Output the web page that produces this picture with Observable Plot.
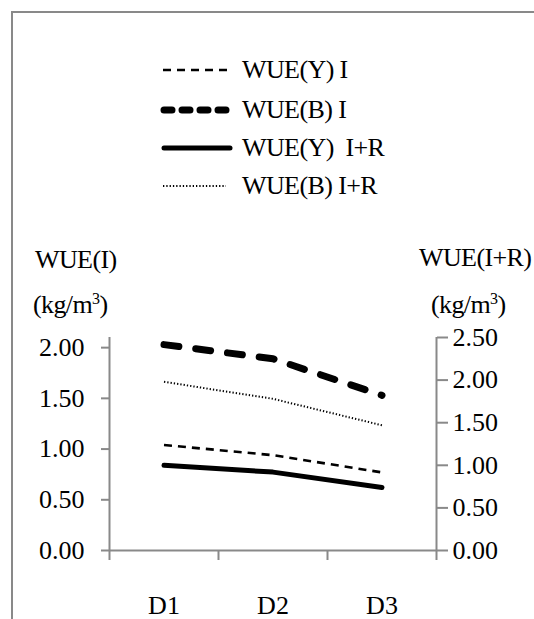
<!DOCTYPE html>
<html>
<head>
<meta charset="utf-8">
<script src="https://cdn.jsdelivr.net/npm/d3@7"></script>
<script src="https://cdn.jsdelivr.net/npm/@observablehq/plot@0.6"></script>
<style>
  html, body { margin: 0; padding: 0; background: #fff; }
  #wrap { position: relative; width: 534px; height: 619px; overflow: hidden; font-family: "Liberation Serif", "Times New Roman", Tinos, "DejaVu Serif", serif; color: #000; }
  #frame { position: absolute; left: 11px; top: 11px; width: 600px; height: 700px; border-top: 2px solid #898989; border-left: 2px solid #898989; pointer-events: none; }
  .t { position: absolute; font-size: 26px; line-height: 26px; white-space: pre; letter-spacing: -0.6px; }
  .t sup { font-size: 16px; line-height: 0; vertical-align: 9px; }
  .row { position: absolute; left: 160px; height: 26px; display: flex; align-items: center; }
  .row svg { display: block; }
  .row span { font-size: 26px; line-height: 26px; white-space: pre; letter-spacing: -0.6px; }
  #chart svg text { font-family: "Liberation Serif", "Times New Roman", Tinos, "DejaVu Serif", serif; }
</style>
</head>
<body>
<div id="wrap">
  <div id="chart"></div>
  <div id="frame"></div>
  <div class="t" style="left:35px;top:247px;">WUE(I)</div>
  <div class="t" style="left:33px;top:292px;">(kg/m<sup>3</sup>)</div>
  <div class="t" style="left:419px;top:245px;">WUE(I+R)</div>
  <div class="t" style="left:431px;top:292px;">(kg/m<sup>3</sup>)</div>
  <div id="legend"></div>
</div>
<script>
// ---- data ----
const categories = ["D1", "D2", "D3"];
const wueY_I   = [1.04, 0.94, 0.77];   // left axis WUE(I)
const wueB_I   = [2.03, 1.89, 1.53];   // left axis WUE(I)
const wueY_IR  = [1.00, 0.92, 0.74];   // right axis WUE(I+R)
const wueB_IR  = [1.98, 1.78, 1.47];   // right axis WUE(I+R)
const leftTicks  = [0, 0.5, 1.0, 1.5, 2.0];
const rightTicks = [0, 0.5, 1.0, 1.5, 2.0, 2.5];
const leftMax = 2.1;
const rightMax = 2.5;
const seriesNames = ["WUE(Y) I", "WUE(B) I", "WUE(Y)  I+R", "WUE(B) I+R"];

// ---- styles ----
const gray = "#898989";
const serif = "'Liberation Serif', 'Times New Roman', Tinos, 'DejaVu Serif', serif";
const styles = [
  {strokeWidth: 2.6, strokeDasharray: "8,6", strokeLinecap: "butt"},
  {strokeWidth: 7, strokeDasharray: "15,17", strokeLinecap: "round"},
  {strokeWidth: 5, strokeDasharray: null, strokeLinecap: "round"},
  {strokeWidth: 2, strokeDasharray: "1.3,2", strokeLinecap: "butt"}
];

const k = leftMax / rightMax; // map right-axis values onto left scale
function rows(vals, axis, name) {
  return vals.map((v, i) => ({series: name, cat: categories[i], xi: i + 0.5, v, yv: axis === "right" ? v * k : v}));
}
const data = [
  rows(wueY_I, "left", seriesNames[0]),
  rows(wueB_I, "left", seriesNames[1]),
  rows(wueY_IR, "right", seriesNames[2]),
  rows(wueB_IR, "right", seriesNames[3])
];

const fmt = d3.format(".2f");

const plot = Plot.plot({
  width: 534,
  height: 619,
  marginTop: 337,
  marginBottom: 69,
  marginLeft: 109,
  marginRight: 98,
  style: {fontFamily: serif, fontSize: "26px", color: "#000", background: "transparent", overflow: "visible"},
  x: {type: "linear", domain: [0, categories.length]},
  y: {domain: [0, leftMax]},
  marks: [
    Plot.ruleX([0, categories.length], {stroke: gray, strokeWidth: 2}),
    Plot.ruleY([0], {stroke: gray, strokeWidth: 2}),
    Plot.axisY({ticks: leftTicks, tickFormat: fmt, tickSize: 8, tickPadding: 17, stroke: gray, strokeWidth: 2, fill: "#000", label: null, fontSize: 26}),
    Plot.axisY({anchor: "right", ticks: rightTicks.map(v => v * k), tickFormat: d => fmt(d / k), tickSize: 11, tickPadding: 5, stroke: gray, strokeWidth: 2, fill: "#000", label: null, fontSize: 26}),
    Plot.axisX({ticks: d3.range(categories.length + 1), tickFormat: () => "", tickSize: 10, stroke: gray, strokeWidth: 2, label: null}),
    Plot.axisX({ticks: categories.map((c, i) => i + 0.5), tickFormat: d => categories[Math.floor(d)], tickSize: 0, tickPadding: 45, fill: "#000", label: null, fontSize: 26}),
    ...data.map((d, j) => Plot.line(d, {x: "xi", y: "yv", stroke: "#000", strokeWidth: styles[j].strokeWidth, strokeDasharray: styles[j].strokeDasharray, strokeLinecap: styles[j].strokeLinecap, strokeLinejoin: "round"}))
  ]
});
document.getElementById("chart").appendChild(plot);

// ---- legend ----
const legendTops = [70, 110, 148, 186];
const legend = document.getElementById("legend");
seriesNames.forEach((name, j) => {
  const row = document.createElement("div");
  row.className = "row";
  row.style.top = (legendTops[j] - 13) + "px";
  const len = j === 3 ? 66 : 72;
  const s = styles[j];
  const svgNS = "http://www.w3.org/2000/svg";
  const svg = document.createElementNS(svgNS, "svg");
  svg.setAttribute("width", len + 8);
  svg.setAttribute("height", 14);
  const ln = document.createElementNS(svgNS, "line");
  const pad = s.strokeLinecap === "round" ? 4 : 3;
  ln.setAttribute("x1", pad);
  ln.setAttribute("x2", len - (s.strokeLinecap === "round" ? 2 : 0));
  ln.setAttribute("y1", 7);
  ln.setAttribute("y2", 7);
  ln.setAttribute("stroke", "#000");
  ln.setAttribute("stroke-width", s.strokeWidth);
  if (s.strokeDasharray) ln.setAttribute("stroke-dasharray", j === 1 ? "8,10" : s.strokeDasharray);
  ln.setAttribute("stroke-linecap", s.strokeLinecap);
  svg.appendChild(ln);
  const sp = document.createElement("span");
  sp.textContent = name;
  sp.style.marginLeft = (j === 3 ? 8 : 2) + "px";
  row.appendChild(svg);
  row.appendChild(sp);
  legend.appendChild(row);
});
</script>
</body>
</html>
